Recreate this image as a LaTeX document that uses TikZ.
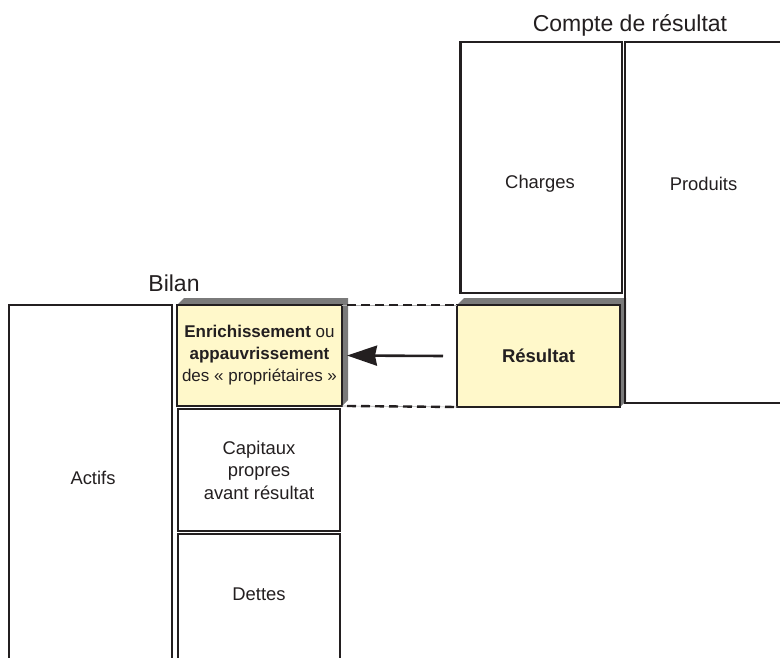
\documentclass[tikz,border=0pt]{standalone}
\usepackage{fontspec}
\setmainfont{Liberation Sans}
\usetikzlibrary{arrows.meta,backgrounds}
\definecolor{ink}{HTML}{231F20}
\definecolor{paleyellow}{HTML}{FFF8CA}
\definecolor{shadowgray}{HTML}{7A7A7A}
\begin{document}
\begin{tikzpicture}[x=1pt,y=-1pt,
  box/.style={draw=ink, line width=2.6pt, rectangle, inner sep=0pt, outer sep=0pt, text=ink,
              align=center, font=\fontsize{18.4}{22.5}\selectfont},
  ybox/.style={box, fill=paleyellow},
  lbl/.style={text=ink, font=\fontsize{18.4}{22.5}\selectfont, align=center, inner sep=0pt},
  title/.style={text=ink, font=\fontsize{23}{27}\selectfont, inner sep=0pt, anchor=base},
  dashline/.style={draw=ink, line width=2.4pt, dash pattern=on 9pt off 5pt},
  shade3d/.style={fill=shadowgray}
]
\useasboundingbox (0,0) rectangle (780,658);
\clip (0,0) rectangle (780,658);

% Titles
\node[title] (cdr) at (630,32) {Compte de résultat};
\node[title] (bilan) at (174,291) {Bilan};

% Compte de resultat
\node[box, minimum width=161.5pt, minimum height=251pt, anchor=north west] (charges) at (460.5,42) {};
\node[box, minimum width=200pt, minimum height=361pt, anchor=north west] (produits) at (625,42) {};
\node[lbl] (chargestxt) at (540,184) {Charges};
\node[lbl] (produitstxt) at (703.5,184) {Produits};

% Bilan
\node[box, minimum width=163pt, minimum height=420pt, anchor=north west] (actifs) at (9,305) {};
\node[lbl] (actifstxt) at (93,478) {Actifs};

\node[ybox, minimum width=165pt, minimum height=101pt, font=\fontsize{17}{22}\selectfont] (enr) at (259.5,355.5)
  {\textbf{Enrichissement} ou\\\textbf{appauvrissement}\\des « propriétaires »};
\node[box, minimum width=162pt, minimum height=122pt] (cap) at (259,470) {Capitaux\\propres\\avant résultat};
\node[box, minimum width=162pt, minimum height=200pt, anchor=north] (dettes) at (259,534) {};
\node[lbl] (dettestxt) at (259,594) {Dettes};

\node[ybox, minimum width=163pt, minimum height=102pt, font=\bfseries\fontsize{18.5}{22}\selectfont] (res) at (538.5,356) {Résultat};

% 3D shadows
\begin{scope}[on background layer]
  \fill[white] (0,0) rectangle (780,658);
  \fill[shade3d] (enr.north west) -- ++(7,-7) -- ([shift={(6,-7)}]enr.north east)
     -- ([shift={(6,-6)}]enr.south east) -- (enr.south east) -- cycle;
  \fill[shade3d] (res.north west) -- ++(7,-7) -- ([shift={(6,-7)}]res.north east)
     -- ([shift={(6,-6)}]res.south east) -- (res.south east) -- cycle;
\end{scope}

% Dashed links
\draw[gray!60, line width=0.6pt] (enr.north east) -- (res.north west);
\draw[gray!60, line width=0.6pt] (enr.south east) -- (res.south west);
\draw[dashline] ([xshift=5pt]enr.north east) -- (res.north west);
\draw[dashline] ([xshift=5pt]enr.south east) -- (res.south west);

% Arrow
\draw[ink, line width=2.6pt, -{Stealth[length=30pt,width=20pt,inset=2pt]}]
  ([xshift=-14pt]res.west) -- ([xshift=5pt]enr.east);
\end{tikzpicture}
\end{document}
